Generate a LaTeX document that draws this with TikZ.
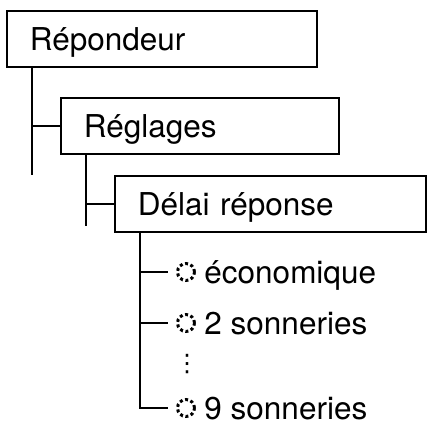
\documentclass[tikz,border=0pt]{standalone}
\usepackage{fontspec}
\setmainfont{TeX Gyre Heros}
\newfontfamily\symfont{DejaVu Sans}
\usetikzlibrary{positioning}

\begin{document}
\begin{tikzpicture}[x=1pt,y=-1pt,line width=1.9pt,font=\fontsize{31.5pt}{36pt}\selectfont,
		menu/.style={draw, anchor=north west, inner xsep=23pt, inner ysep=0pt, minimum height=56pt, align=left, text height=22.5pt, text depth=0pt},
		radio/.style={draw, circle, minimum size=17pt, inner sep=0pt, line width=3pt, dash pattern=on 3pt off 2.6pt},
		item/.style={inner sep=0pt, text height=22.5pt, text depth=0pt}]
		\useasboundingbox (0,0) rectangle (429,428);
		\path 	(6,10)	node[menu, minimum width=310pt, text width=264pt] (a) {Répondeur}
			(60,97)	node[menu, minimum width=278pt, text width=232pt] (b) {Réglages}
			(114,175)	node[menu, minimum width=311pt, text width=265pt] (c) {Délai réponse};
		\path	(186,272)	node[radio] (d) {}
			(186,323)	node[radio] (e) {}
			(186,408)	node[radio] (f) {};
		\node[item, right=7.5pt of d] (g) {économique};
		\node[item, right=7.5pt of e] (h) {2 sonneries};
		\node[item, right=7.5pt of f] (i) {9 sonneries};
		\node[inner sep=0pt, font=\fontsize{24pt}{24pt}\symfont] (k) at (187,364) {⋮};
		\coordinate (p) at ([xshift=26pt]a.south west);
		\coordinate (q) at ([xshift=26pt]b.south west);
		\coordinate (t) at ([xshift=26pt]c.south west);
		\draw (p) -- (p |- c.north);
		\draw (b.west -| p) to (b.west);
		\draw (q) -- ++(0,71);
		\draw (c.west -| q) to (c.west);
		\draw[shorten >=8.5pt] (t) |- (f.west);
		\draw[shorten >=8.5pt] (d.west -| t) to (d.west);
		\draw[shorten >=8.5pt] (e.west -| t) to (e.west);
	\end{tikzpicture}
\end{document}
